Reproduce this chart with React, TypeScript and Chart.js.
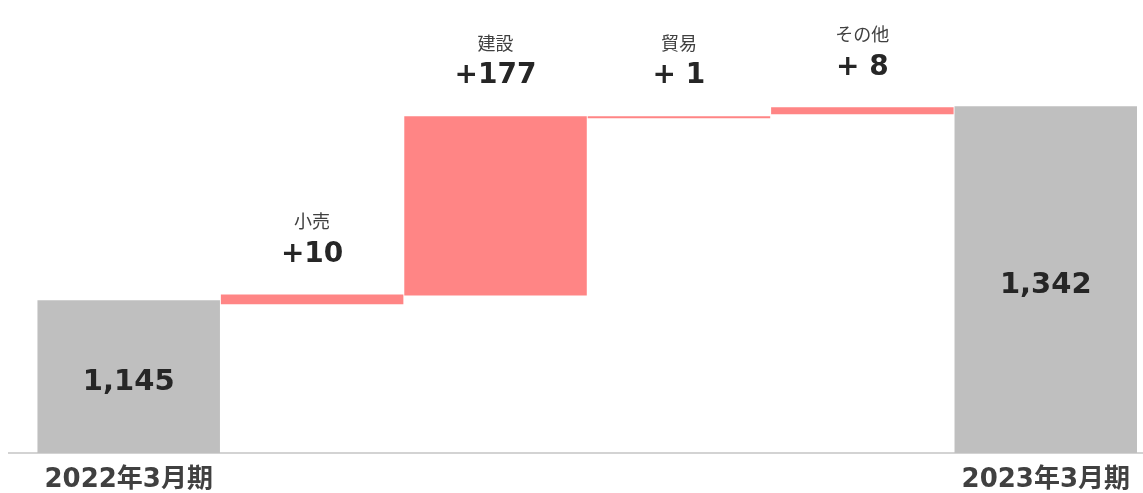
import React, { useEffect, useRef } from "react";
import { Chart, registerables } from "chart.js";

Chart.register(...registerables);

const categories = ["2022年3月期", "小売", "建設", "貿易", "その他", "2023年3月期"];
const barStarts = [990, 1141, 1150, 1330, 1334, 990];
const barEnds = [1145, 1151, 1332, 1332, 1341, 1342];
const isTotal = [true, false, false, false, false, true];
const totalLabels = ["1,145", "", "", "", "", "1,342"];
const deltaLabels = ["", "+10", "+177", "+ 1", "+ 8", ""];
const yMin = 990;
const yMax = 1450;

const FONT = "'DejaVu Sans', 'Noto Sans CJK JP', sans-serif";
const GRAY = "#bfbfbf";
const PINK = "#ff8585";

const labelPlugin = {
  id: "waterfallLabels",
  beforeDatasetsDraw(chart: any) {
    const ctx = chart.ctx;
    const y = chart.scales.y.getPixelForValue(yMin);
    ctx.save();
    ctx.strokeStyle = "#c4c4c4";
    ctx.lineWidth = 1.5;
    ctx.beginPath();
    ctx.moveTo(8, y);
    ctx.lineTo(chart.width, y);
    ctx.stroke();
    ctx.restore();
  },
  afterDatasetsDraw(chart: any) {
    const ctx = chart.ctx;
    const meta = chart.getDatasetMeta(0);
    ctx.save();
    ctx.textAlign = "center";
    ctx.textBaseline = "middle";
    meta.data.forEach((bar: any, i: number) => {
      const top = Math.min(bar.y, bar.base);
      const bottom = Math.max(bar.y, bar.base);
      if (isTotal[i]) {
        ctx.fillStyle = "#262626";
        ctx.font = `bold 29px ${FONT}`;
        ctx.fillText(totalLabels[i], bar.x, (top + bottom) / 2 + 6);
      } else {
        ctx.fillStyle = "#404040";
        ctx.font = `18px ${FONT}`;
        ctx.fillText(categories[i], bar.x, top - 71);
        ctx.fillStyle = "#262626";
        ctx.font = `bold 28px ${FONT}`;
        ctx.fillText(deltaLabels[i], bar.x, top - 40);
      }
    });
    ctx.restore();
  },
};

export default function App() {
  const canvasRef = useRef<HTMLCanvasElement | null>(null);

  useEffect(() => {
    if (!canvasRef.current) return;
    const chart = new Chart(canvasRef.current, {
      type: "bar",
      data: {
        labels: categories,
        datasets: [
          {
            data: barStarts.map((s, i) => [s, barEnds[i]]),
            backgroundColor: isTotal.map((t) => (t ? GRAY : PINK)),
            borderWidth: 0,
            borderSkipped: false,
            categoryPercentage: 1,
            barPercentage: 0.995,
          },
        ],
      },
      options: {
        animation: false,
        responsive: true,
        maintainAspectRatio: false,
        layout: { padding: { left: 37, right: 0, top: 0, bottom: -14 } },
        plugins: {
          legend: { display: false },
          tooltip: { enabled: false },
        },
        scales: {
          x: {
            grid: { display: false, drawTicks: false },
            border: { display: false },
            ticks: {
              padding: 13,
              maxRotation: 0,
              autoSkip: false,
              color: "#404040",
              font: { family: FONT, size: 26, weight: "bold", lineHeight: 1.08 },
              callback: (_v: any, i: number) => (isTotal[i] ? categories[i] : ""),
            },
          },
          y: {
            display: false,
            min: yMin,
            max: yMax,
          },
        },
      },
      plugins: [labelPlugin],
    });
    return () => chart.destroy();
  }, []);

  return (
    <div
      style={{
        position: "fixed",
        left: 0,
        top: 0,
        width: 1143,
        height: 493,
        background: "#ffffff",
      }}
    >
      <canvas ref={canvasRef} />
    </div>
  );
}
